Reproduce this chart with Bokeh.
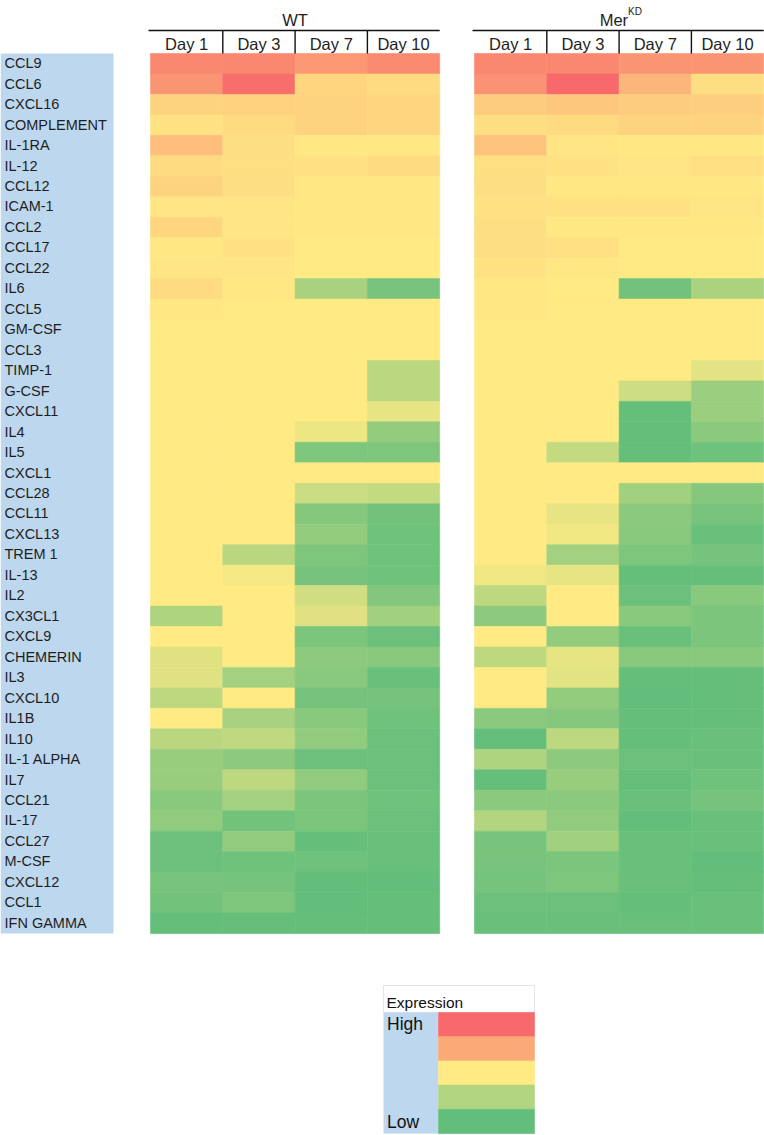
from bokeh.plotting import figure
from bokeh.models import Range1d, ColumnDataSource
from bokeh.transform import linear_cmap
from bokeh.embed import file_html
from bokeh.resources import INLINE
from bokeh.core.properties import value

# ---------------- data ----------------
genes = ["CCL9", "CCL6", "CXCL16", "COMPLEMENT", "IL-1RA", "IL-12", "CCL12", "ICAM-1",
         "CCL2", "CCL17", "CCL22", "IL6", "CCL5", "GM-CSF", "CCL3", "TIMP-1", "G-CSF",
         "CXCL11", "IL4", "IL5", "CXCL1", "CCL28", "CCL11", "CXCL13", "TREM 1", "IL-13",
         "IL2", "CX3CL1", "CXCL9", "CHEMERIN", "IL3", "CXCL10", "IL1B", "IL10",
         "IL-1 ALPHA", "IL7", "CCL21", "IL-17", "CCL27", "M-CSF", "CXCL12", "CCL1",
         "IFN GAMMA"]
days = ["Day 1", "Day 3", "Day 7", "Day 10"]
groups = ["WT", "Mer"]

# relative expression score: 0 = low (green), 0.5 = mid (yellow), 1 = high (red)
wt_day1 = [0.88, 0.83, 0.59, 0.53, 0.67, 0.56, 0.59, 0.52, 0.58, 0.51, 0.52, 0.56, 0.51,
           0.50, 0.50, 0.50, 0.50, 0.50, 0.50, 0.50, 0.50, 0.50, 0.50, 0.50, 0.50, 0.50,
           0.50, 0.24, 0.50, 0.40, 0.40, 0.29, 0.50, 0.28, 0.17, 0.17, 0.12, 0.15, 0.03,
           0.03, 0.07, 0.05, 0.01]
wt_day3 = [0.88, 0.98, 0.60, 0.56, 0.55, 0.54, 0.55, 0.52, 0.52, 0.53, 0.52, 0.51, 0.50,
           0.50, 0.50, 0.50, 0.50, 0.50, 0.50, 0.50, 0.50, 0.50, 0.50, 0.50, 0.28, 0.47,
           0.50, 0.50, 0.50, 0.50, 0.21, 0.50, 0.22, 0.30, 0.14, 0.29, 0.21, 0.05, 0.15,
           0.04, 0.06, 0.09, 0.01]
wt_day7 = [0.82, 0.58, 0.59, 0.59, 0.51, 0.53, 0.51, 0.51, 0.51, 0.50, 0.50, 0.22, 0.50,
           0.50, 0.50, 0.50, 0.50, 0.50, 0.44, 0.09, 0.50, 0.33, 0.11, 0.16, 0.09, 0.06,
           0.35, 0.40, 0.08, 0.14, 0.12, 0.06, 0.12, 0.15, 0.03, 0.15, 0.08, 0.08, 0.01,
           0.04, 0.00, 0.00, 0.01]
wt_day10 = [0.87, 0.56, 0.58, 0.58, 0.51, 0.56, 0.51, 0.51, 0.51, 0.50, 0.50, 0.07, 0.50,
            0.50, 0.50, 0.285, 0.285, 0.42, 0.16, 0.09, 0.50, 0.31, 0.05, 0.04, 0.04, 0.04,
            0.10, 0.20, 0.03, 0.12, 0.02, 0.06, 0.04, 0.03, 0.03, 0.03, 0.04, 0.03, 0.02,
            0.02, 0.00, 0.01, 0.01]
kd_day1 = [0.88, 0.84, 0.62, 0.55, 0.66, 0.54, 0.55, 0.53, 0.55, 0.55, 0.53, 0.51, 0.51,
           0.50, 0.50, 0.50, 0.50, 0.50, 0.50, 0.50, 0.50, 0.50, 0.50, 0.50, 0.50, 0.45,
           0.29, 0.14, 0.50, 0.29, 0.50, 0.50, 0.13, 0.01, 0.24, 0.01, 0.13, 0.26, 0.07,
           0.07, 0.06, 0.03, 0.02]
kd_day3 = [0.88, 1.00, 0.64, 0.56, 0.52, 0.53, 0.51, 0.53, 0.51, 0.54, 0.51, 0.50, 0.50,
           0.50, 0.50, 0.50, 0.50, 0.50, 0.50, 0.31, 0.50, 0.50, 0.42, 0.45, 0.21, 0.42,
           0.50, 0.50, 0.16, 0.42, 0.41, 0.16, 0.11, 0.29, 0.14, 0.17, 0.13, 0.15, 0.20,
           0.08, 0.09, 0.03, 0.02]
kd_day7 = [0.83, 0.70, 0.62, 0.59, 0.51, 0.52, 0.51, 0.53, 0.51, 0.50, 0.50, 0.05, 0.50,
           0.50, 0.50, 0.50, 0.34, 0.01, 0.01, 0.01, 0.50, 0.20, 0.13, 0.12, 0.09, 0.01,
           0.03, 0.12, 0.02, 0.12, 0.01, 0.00, 0.01, 0.01, 0.03, 0.01, 0.02, 0.00, 0.02,
           0.02, 0.02, 0.01, 0.02]
kd_day10 = [0.83, 0.55, 0.61, 0.59, 0.51, 0.54, 0.51, 0.52, 0.51, 0.50, 0.50, 0.23, 0.50,
            0.50, 0.50, 0.41, 0.18, 0.18, 0.13, 0.04, 0.50, 0.11, 0.07, 0.02, 0.06, 0.01,
            0.12, 0.08, 0.08, 0.12, 0.01, 0.01, 0.01, 0.02, 0.02, 0.04, 0.06, 0.02, 0.02,
            0.00, 0.01, 0.02, 0.02]

legend_levels = [1.0, 0.75, 0.5, 0.25, 0.0]

# ---------------- colour scale (green -> yellow -> red) ----------------
def _hex(c):
    return tuple(int(c[i:i + 2], 16) for i in (1, 3, 5))

stops = [_hex("#63BE7B"), _hex("#FFEB84"), _hex("#F8696B")]
palette = []
N = 256
for k in range(N):
    t = k / (N - 1)
    if t <= 0.5:
        a, b, f = stops[0], stops[1], t / 0.5
    else:
        a, b, f = stops[1], stops[2], (t - 0.5) / 0.5
    rgb = [round(a[j] + (b[j] - a[j]) * f) for j in range(3)]
    palette.append("#%02X%02X%02X" % tuple(rgb))

cmap = linear_cmap("v", palette, 0.0, 1.0)

# ---------------- layout (screen-like coordinates, y downward) ----------------
W, H = 764, 1135
p = figure(width=W, height=H, x_range=Range1d(0, W), y_range=Range1d(H, 0),
           x_axis_type=None, y_axis_type=None, toolbar_location=None,
           output_backend="svg", min_border=0, outline_line_color=None,
           background_fill_color="white", border_fill_color="white")
p.grid.visible = False

FONT = value("Liberation Sans")
top, bottom = 53.0, 933.0
rh = (bottom - top) / len(genes)
block_x0 = {"WT": 150.0, "Mer": 474.0}
cw = 72.3

# label column
p.quad(left=[0], right=[113], top=[top], bottom=[bottom],
       fill_color="#BDD7EE", line_color=None)
row_y = [top + (i + 0.5) * rh for i in range(len(genes))]
p.text(x=[4] * len(genes), y=[y - 0.5 for y in row_y], text=genes, text_font=FONT,
       text_font_size=value("14.5px"), text_baseline="middle", text_align="left",
       text_color="#1E1E1E")

# heatmap cells
series = {"WT": [wt_day1, wt_day3, wt_day7, wt_day10],
          "Mer": [kd_day1, kd_day3, kd_day7, kd_day10]}
xs, ys, vs = [], [], []
for g in groups:
    for j, col in enumerate(series[g]):
        for i, v in enumerate(col):
            xs.append(block_x0[g] + (j + 0.5) * cw)
            ys.append(row_y[i])
            vs.append(v)
src = ColumnDataSource(dict(x=xs, y=ys, v=vs))
p.rect(x="x", y="y", width=cw, height=rh, source=src,
       fill_color=cmap, line_color=cmap, line_width=0.6)

# column headers
for g in groups:
    x0 = block_x0[g]
    x1 = x0 + 4 * cw
    p.segment(x0=[x0 - 2], y0=[30], x1=[x1], y1=[30], line_color="#111111", line_width=1.4)
    p.segment(x0=[x0 + j * cw for j in range(1, 4)], y0=[30] * 3,
              x1=[x0 + j * cw for j in range(1, 4)], y1=[top] * 3,
              line_color="#111111", line_width=1.4)
    p.text(x=[x0 + (j + 0.5) * cw for j in range(4)], y=[43.5] * 4, text=days,
           text_font=FONT, text_font_size=value("16.5px"), text_align="center",
           text_baseline="middle", text_color="#1E1E1E")

p.text(x=[block_x0["WT"] + 2 * cw], y=[19.5], text=["WT"], text_font=FONT,
       text_font_size=value("16.5px"), text_align="center", text_baseline="middle",
       text_color="#1E1E1E")
mer_anchor = block_x0["Mer"] + 2 * cw + 9
p.text(x=[mer_anchor], y=[19.5], text=["Mer"], text_font=FONT,
       text_font_size=value("16.5px"), text_align="right", text_baseline="middle",
       text_color="#1E1E1E")
p.text(x=[mer_anchor], y=[11], text=["KD"], text_font=FONT,
       text_font_size=value("10px"), text_align="left", text_baseline="middle",
       text_color="#1E1E1E")

# legend
lx0, lx1, lx2 = 383, 438, 534
ly_head, ly0 = 985, 1012
lh = 24.2
p.quad(left=[lx0], right=[lx2], top=[ly_head], bottom=[ly0], fill_color="white",
       line_color="#E4E4E4", line_width=1)
p.text(x=[386], y=[1001.5], text=["Expression"], text_font=FONT,
       text_font_size=value("15.5px"), text_align="left", text_baseline="middle",
       text_color="#111111")
p.quad(left=[lx0], right=[lx1], top=[ly0], bottom=[ly0 + 5 * lh],
       fill_color="#BDD7EE", line_color=None)
lsrc = ColumnDataSource(dict(x=[(lx1 + lx2) / 2] * 5,
                             y=[ly0 + (k + 0.5) * lh for k in range(5)],
                             v=legend_levels))
p.rect(x="x", y="y", width=lx2 - lx1, height=lh, source=lsrc,
       fill_color=cmap, line_color=cmap, line_width=0.6)
p.text(x=[386.5, 386.5], y=[1023.5, 1121], text=["High", "Low"],
       text_font=FONT, text_font_size=value("17.5px"), text_align="left",
       text_baseline="middle", text_color="#111111")

open("out.html", "w").write(file_html(p, INLINE))
